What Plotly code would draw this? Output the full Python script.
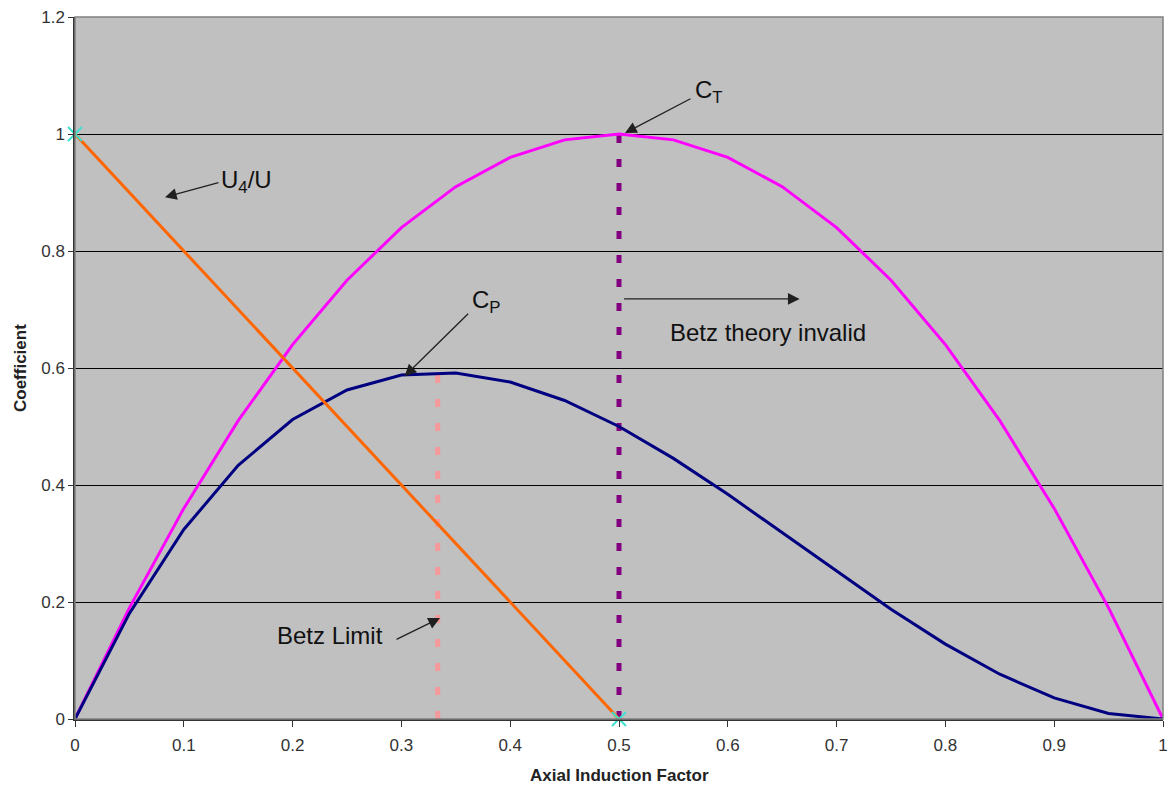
import plotly.graph_objects as go

a = [0, 0.05, 0.1, 0.15, 0.2, 0.25, 0.3, 0.35, 0.4, 0.45, 0.5,
     0.55, 0.6, 0.65, 0.7, 0.75, 0.8, 0.85, 0.9, 0.95, 1.0]
ct = [0, 0.19, 0.36, 0.51, 0.64, 0.75, 0.84, 0.91, 0.96, 0.99, 1.0,
      0.99, 0.96, 0.91, 0.84, 0.75, 0.64, 0.51, 0.36, 0.19, 0]
cp = [0, 0.1805, 0.324, 0.4335, 0.512, 0.5625, 0.588, 0.5915, 0.576, 0.5445, 0.5,
      0.4455, 0.384, 0.3185, 0.252, 0.1875, 0.128, 0.0765, 0.036, 0.0095, 0]
u_a = [0, 0.5]
u_ratio = [1.0, 0.0]
betz_x = [1/3, 1/3]
betz_y = [0, 0.5926]
inval_x = [0.5, 0.5]
inval_y = [0, 1.0]
x_ticks = [0, 0.1, 0.2, 0.3, 0.4, 0.5, 0.6, 0.7, 0.8, 0.9, 1]
y_ticks = [0, 0.2, 0.4, 0.6, 0.8, 1, 1.2]

fig = go.Figure()
fig.add_trace(go.Scatter(x=betz_x, y=betz_y, mode="lines",
                         line=dict(color="#f49a9a", width=5, dash="8px,16px"), hoverinfo="skip"))
fig.add_trace(go.Scatter(x=inval_x, y=inval_y, mode="lines",
                         line=dict(color="#800080", width=5, dash="8px,16px"), hoverinfo="skip"))
fig.add_trace(go.Scatter(x=a, y=ct, mode="lines", line=dict(color="#ff00ff", width=3)))
fig.add_trace(go.Scatter(x=a, y=cp, mode="lines", line=dict(color="#000080", width=3)))
fig.add_trace(go.Scatter(x=u_a, y=u_ratio, mode="lines+markers",
                         line=dict(color="#ff6600", width=3),
                         marker=dict(symbol="x-thin", size=14, line=dict(color="#40e0d0", width=2)),
                         cliponaxis=False))

FONT = "Liberation Sans, Arial, sans-serif"
txt = dict(family=FONT, size=24, color="#111")
ann = []
def arrow(x, y, ax, ay):
    ann.append(dict(x=x, y=y, xref="x", yref="y", ax=ax, ay=ay, text="", showarrow=True,
                    arrowhead=2, arrowsize=1.8, arrowwidth=1.3, arrowcolor="#202020"))
def label(x, y, t):
    ann.append(dict(x=x, y=y, xref="x", yref="y", text=t, showarrow=False, font=txt))

arrow(0.0827, 0.892, 55, -15)
label(0.158, 0.918, "U<sub>4</sub>/U")
arrow(0.303, 0.586, 65, -64)
label(0.378, 0.713, "C<sub>P</sub>")
arrow(0.5055, 1.0017, 67, -35)
label(0.583, 1.072, "C<sub>T</sub>")
arrow(0.666, 0.718, -177, 0)
label(0.637, 0.6615, "Betz theory invalid")
arrow(0.3355, 0.1726, -45, 22)
label(0.234, 0.142, "Betz Limit")

# axis titles
ann.append(dict(x=0.5, y=0, xref="paper", yref="paper", yshift=-56, yanchor="middle",
                text="<b>Axial Induction Factor</b>", showarrow=False,
                font=dict(family=FONT, size=17, color="#222")))
ann.append(dict(x=0, y=0.5, xref="paper", yref="paper", xshift=-55, xanchor="center",
                text="<b>Coefficient</b>", showarrow=False, textangle=-90,
                font=dict(family=FONT, size=17, color="#222")))

fig.update_layout(
    width=1171, height=789,
    margin=dict(l=75, r=8, t=17, b=70),
    paper_bgcolor="white", plot_bgcolor="#c0c0c0",
    showlegend=False,
    font=dict(family=FONT, size=17, color="#333"),
    annotations=ann,
    shapes=[dict(type="rect", xref="paper", yref="paper", x0=0, y0=0, x1=1, y1=1,
                 line=dict(color="#808080", width=1.5), layer="above")],
)
fig.update_xaxes(range=[0, 1], tickvals=x_ticks, ticktext=[str(v) for v in x_ticks],
                 automargin=False, tickfont=dict(size=17), ticklabeloverflow="allow",
                 ticklabelstandoff=4,
                 showgrid=False, zeroline=False, showline=True, linecolor="#333", linewidth=1.5,
                 ticks="outside", ticklen=6, tickcolor="#333")
fig.update_yaxes(range=[0, 1.2], tickvals=y_ticks, ticktext=[str(v) for v in y_ticks],
                 automargin=False, tickfont=dict(size=17), ticklabeloverflow="allow",
                 showgrid=True, gridcolor="black", gridwidth=1, zeroline=False,
                 showline=True, linecolor="#333", linewidth=1.5,
                 ticks="outside", ticklen=5, tickcolor="#333")
fig.write_html("out.html", config={"displayModeBar": False},
               post_script="document.body.style.margin='0';")
